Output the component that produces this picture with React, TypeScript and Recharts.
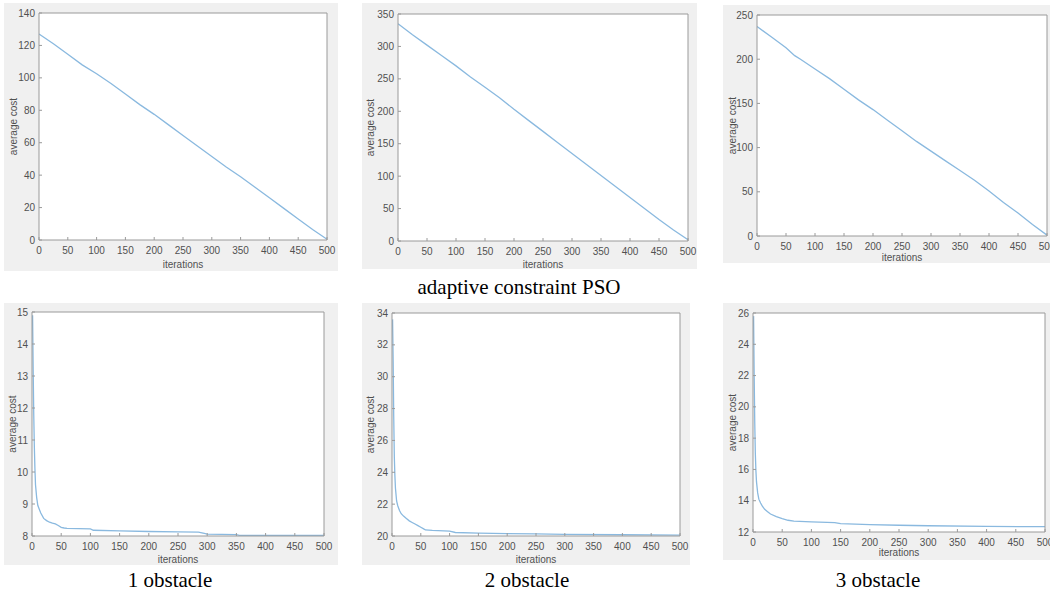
import React from "react"
import { LineChart, Line, XAxis, YAxis, CartesianGrid } from "recharts"

// x axis ticks shared by all six plots
const iterTicks = [0, 50, 100, 150, 200, 250, 300, 350, 400, 450, 500]

// top row: adaptive constraint PSO
const topIter = [0, 25, 50, 75, 100, 125, 150, 175, 200, 225, 250, 275, 300, 325, 350, 375, 400, 425, 450, 475, 500]
const topCost1 = [127, 121, 114.5, 108, 102.5, 96.5, 90, 83.5, 77.5, 71, 64.5, 58, 51.5, 45, 39, 32.5, 26, 19.5, 13, 6.5, 0.5]
const topCost2 = [335, 318, 302, 286, 270, 253, 237, 221, 203, 186, 169, 152, 135, 118, 101, 84, 67, 50, 33, 17, 2]
const topIter3 = [0, 25, 50, 65, 75, 100, 125, 150, 175, 200, 225, 250, 275, 300, 325, 350, 375, 400, 425, 450, 475, 500]
const topCost3 = [237, 225, 213, 204, 200, 189, 178, 166, 154, 143, 131, 119, 107, 96, 85, 74, 63, 51, 38, 26, 13, 1]

// bottom row: 1, 2, 3 obstacle
const obs1Iter = [1, 2, 3, 4, 5, 6, 8, 10, 15, 20, 25, 30, 35, 40, 45, 50, 55, 60, 80, 100, 105, 150, 200, 250, 285, 295, 300, 350, 355, 400, 500]
const obs1Cost = [14.9, 13.2, 11.8, 10.8, 10.1, 9.6, 9.2, 8.95, 8.72, 8.55, 8.48, 8.43, 8.4, 8.38, 8.33, 8.27, 8.25, 8.24, 8.23, 8.22, 8.18, 8.16, 8.14, 8.13, 8.12, 8.08, 8.06, 8.04, 8.02, 8.02, 8.02]

const obs2Iter = [1, 2, 3, 4, 5, 6, 8, 10, 13, 16, 20, 25, 30, 35, 40, 45, 50, 55, 58, 70, 100, 110, 150, 200, 250, 300, 400, 500]
const obs2Cost = [33.6, 31, 27.5, 25, 23.8, 23, 22.2, 21.9, 21.6, 21.4, 21.25, 21.1, 20.95, 20.85, 20.75, 20.65, 20.55, 20.45, 20.38, 20.35, 20.3, 20.22, 20.18, 20.15, 20.13, 20.1, 20.08, 20.06]

const obs3Iter = [1, 2, 3, 4, 5, 6, 8, 10, 13, 16, 20, 25, 30, 40, 50, 60, 70, 100, 140, 150, 200, 250, 300, 400, 500]
const obs3Cost = [25.8, 22, 19, 17, 15.9, 15.2, 14.5, 14.1, 13.85, 13.65, 13.45, 13.3, 13.15, 12.98, 12.85, 12.75, 12.7, 12.65, 12.6, 12.54, 12.47, 12.43, 12.4, 12.36, 12.34]

const ticks1 = [0, 20, 40, 60, 80, 100, 120, 140]
const ticks2 = [0, 50, 100, 150, 200, 250, 300, 350]
const ticks3 = [0, 50, 100, 150, 200, 250]
const ticks4 = [8, 9, 10, 11, 12, 13, 14, 15]
const ticks5 = [20, 22, 24, 26, 28, 30, 32, 34]
const ticks6 = [12, 14, 16, 18, 20, 22, 24, 26]

const zip = (xs: number[], ys: number[]) => xs.map((x, i) => ({ iter: x, cost: ys[i] }))

const AXIS = "#9a9a9a"
const TEXT = "#505050"
const LINE = "#8ab9df"
const FONT = "'Liberation Sans', Arial, sans-serif"

type Box = { x: number; y: number; w: number; h: number; clip?: number }
type Plot = { x1: number; y1: number; x2: number; y2: number }

function Panel({
  box,
  plot,
  data,
  yTicks,
  yLabelX,
  xLabelY,
}: {
  box: Box
  plot: Plot
  data: { iter: number; cost: number }[]
  yTicks: number[]
  yLabelX: number
  xLabelY: number
}) {
  const leftW = plot.x1 - box.x
  const rightW = box.x + box.w - plot.x2
  const topH = plot.y1 - box.y
  const bottomH = box.y + box.h - plot.y2
  const yDomain = [yTicks[0], yTicks[yTicks.length - 1]]
  const tickText = { fontSize: 10, fill: TEXT, fontFamily: FONT }

  // the right-hand plots are cut at the page edge in the original, like "50" of 500
  return (
    <div
      style={{
        position: "absolute",
        left: box.x,
        top: box.y,
        width: box.clip ?? box.w,
        height: box.h,
        overflow: "hidden",
        background: "#f0f0f0",
      }}
    >
      <LineChart
        width={box.w}
        height={box.h}
        data={data}
        margin={{ top: 0, right: 0, bottom: 0, left: 0 }}
        style={{ fontFamily: FONT }}
      >
        <CartesianGrid fill="#ffffff" horizontal={false} vertical={false} />
        <XAxis
          dataKey="iter"
          type="number"
          domain={[0, 500]}
          ticks={iterTicks}
          interval={0}
          allowDataOverflow
          height={bottomH}
          stroke={AXIS}
          tickSize={-3}
          tickMargin={9.5}
          tick={tickText}
          label={{
            value: "iterations",
            position: "insideBottom",
            offset: box.y + box.h - xLabelY,
            style: { fontSize: 10, fill: TEXT, fontFamily: FONT },
          }}
        />
        <XAxis
          xAxisId="top"
          orientation="top"
          type="number"
          domain={[0, 500]}
          ticks={iterTicks}
          interval={0}
          allowDataOverflow
          height={topH}
          stroke={AXIS}
          tickSize={-3}
          tick={false}
        />
        <YAxis
          type="number"
          domain={yDomain}
          ticks={yTicks}
          interval={0}
          allowDataOverflow
          width={leftW}
          stroke={AXIS}
          tickSize={-3}
          tickMargin={7}
          tick={tickText}
          label={{
            value: "average cost",
            angle: -90,
            position: "insideLeft",
            offset: yLabelX - box.x,
            style: { fontSize: 10, fill: TEXT, fontFamily: FONT, textAnchor: "middle" },
          }}
        />
        <YAxis
          yAxisId="right"
          orientation="right"
          type="number"
          domain={yDomain}
          ticks={yTicks}
          interval={0}
          allowDataOverflow
          width={rightW}
          stroke={AXIS}
          tickSize={-3}
          tick={false}
        />
        <Line
          type="linear"
          dataKey="cost"
          stroke={LINE}
          strokeWidth={1.3}
          dot={false}
          isAnimationActive={false}
        />
      </LineChart>
    </div>
  )
}

export default function App() {
  return (
    <div
      style={{
        position: "absolute",
        left: 0,
        top: 0,
        width: 1057,
        height: 594,
        background: "#ffffff",
        overflow: "hidden",
      }}
    >
      <Panel
        box={{ x: 4, y: 3, w: 334, h: 268 }}
        plot={{ x1: 39, y1: 13, x2: 327, y2: 240 }}
        data={zip(topIter, topCost1)}
        yTicks={ticks1}
        yLabelX={13}
        xLabelY={267.5}
      />
      <Panel
        box={{ x: 362, y: 3, w: 335, h: 266 }}
        plot={{ x1: 398, y1: 14, x2: 688, y2: 241 }}
        data={zip(topIter, topCost2)}
        yTicks={ticks2}
        yLabelX={370}
        xLabelY={267.5}
      />
      <Panel
        box={{ x: 723, y: 5, w: 340, h: 258, clip: 327 }}
        plot={{ x1: 757, y1: 15, x2: 1047, y2: 236 }}
        data={zip(topIter3, topCost3)}
        yTicks={ticks3}
        yLabelX={732}
        xLabelY={260.5}
      />
      <Panel
        box={{ x: 4, y: 303, w: 334, h: 262 }}
        plot={{ x1: 32, y1: 312, x2: 324, y2: 536 }}
        data={zip(obs1Iter, obs1Cost)}
        yTicks={ticks4}
        yLabelX={12}
        xLabelY={562.5}
      />
      <Panel
        box={{ x: 362, y: 303, w: 328, h: 262 }}
        plot={{ x1: 392, y1: 313, x2: 680, y2: 536 }}
        data={zip(obs2Iter, obs2Cost)}
        yTicks={ticks5}
        yLabelX={370}
        xLabelY={562.5}
      />
      <Panel
        box={{ x: 723, y: 303, w: 340, h: 257, clip: 327 }}
        plot={{ x1: 753, y1: 313, x2: 1045, y2: 532 }}
        data={zip(obs3Iter, obs3Cost)}
        yTicks={ticks6}
        yLabelX={732}
        xLabelY={555.5}
      />
      <svg
        width={1057}
        height={594}
        style={{ position: "absolute", left: 0, top: 0, pointerEvents: "none" }}
      >
        <g fontFamily="'Liberation Serif', 'Times New Roman', serif" fontSize={21} fill="#000" textAnchor="middle">
          <text x={519} y={294}>adaptive constraint PSO</text>
          <text x={170} y={587}>1 obstacle</text>
          <text x={527} y={587}>2 obstacle</text>
          <text x={878} y={587}>3 obstacle</text>
        </g>
      </svg>
    </div>
  )
}
